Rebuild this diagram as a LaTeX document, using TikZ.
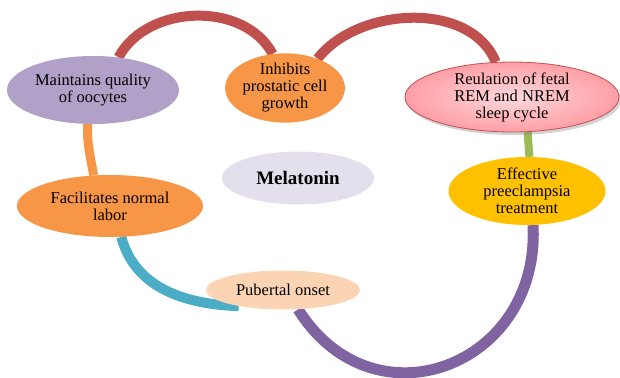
\documentclass[tikz,border=0pt]{standalone}
\usepackage{fontspec}
\setmainfont{Liberation Serif}
\usepackage{tikz}
\usetikzlibrary{shapes.geometric}
\usetikzlibrary{shadows}
\usetikzlibrary{backgrounds}
\definecolor{mauve}{HTML}{B1A0C7}
\definecolor{tangerine}{HTML}{F79646}
\definecolor{amber}{HTML}{FFC000}
\definecolor{lilac}{HTML}{E4DFEC}
\definecolor{peach}{HTML}{FBD4B4}
\definecolor{brick}{HTML}{C0504D}
\definecolor{olive}{HTML}{9BBB59}
\definecolor{grape}{HTML}{8064A2}
\definecolor{teal}{HTML}{4BACC6}
\definecolor{blush}{HTML}{FFD9DB}
\definecolor{rose}{HTML}{FF9EA6}
\tikzstyle{effect}=[ellipse, inner sep=0pt, align=center, font=\fontsize{16.5}{17}\selectfont]
\tikzstyle{band}=[line width=10pt]

\begin{document}
\begin{tikzpicture}[x=1pt,y=1pt]
\useasboundingbox (0,0) rectangle (620,-377);
\node[effect, fill=mauve, minimum width=172, minimum height=68] (maint) at (93,-90){Maintains quality\\of oocytes};
\node[effect, fill=tangerine, minimum width=96, minimum height=69] (inh) at (285,-88){Inhibits\\prostatic cell\\growth};
\node[effect, inner color=blush, outer color=rose, draw=brick, line width=0.8pt, minimum width=214, minimum height=70, drop shadow={shadow xshift=2pt, shadow yshift=-3pt, opacity=0.35}] (reul) at (512,-97){Reulation of fetal\\REM and NREM\\sleep cycle};
\node[effect, fill=amber, minimum width=157, minimum height=68] (eff) at (527,-191){Effective\\preeclampsia\\treatment};
\node[effect, fill=lilac, minimum width=152, minimum height=53, font=\fontsize{19}{20}\selectfont\bfseries] (mel) at (298,-178){Melatonin};
\node[effect, fill=tangerine, minimum width=186, minimum height=62] (fac) at (110,-206){Facilitates normal\\labor};
\node[effect, fill=peach, minimum width=154, minimum height=39] (pub) at (283,-290){Pubertal onset};
\begin{pgfonlayer}{background}
\draw[band, brick](maint.52) to[out=62,in=118,looseness=1.0] (inh.110);
\draw[band, brick](inh.42) to[out=52,in=112,looseness=0.95] (reul.115);
\draw[band, olive, line width=8pt](reul.-66) -- (eff.86);
\draw[band, grape, line width=11pt](eff.-80) to[out=-87,in=-58,looseness=1.45] (pub.-52);
\draw[band, teal](fac.-70) to[out=-75,in=178] (pub.-160);
\draw[band, tangerine, line width=9pt](maint.-99) to[out=-92,in=100] (fac.118);
\end{pgfonlayer}
\end{tikzpicture}
\end{document}
